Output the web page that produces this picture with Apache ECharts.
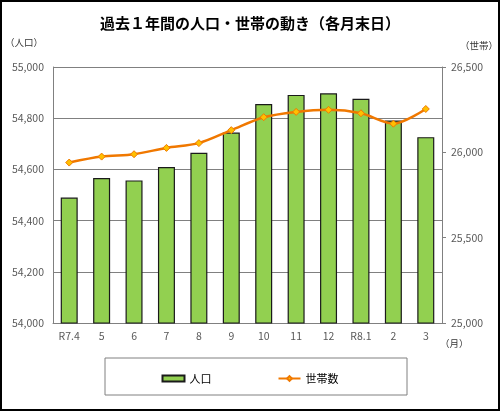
<!DOCTYPE html>
<html>
<head>
<meta charset="utf-8">
<script src="https://cdn.jsdelivr.net/npm/echarts@6/dist/echarts.min.js"></script>
<style>
  html, body { margin: 0; padding: 0; background: #fff; }
  #main { width: 500px; height: 411px; }
</style>
</head>
<body>
<div id="main"></div>
<script>
// 各月末日の人口・世帯数
var months = ['R7.4', '5', '6', '7', '8', '9', '10', '11', '12', 'R8.1', '2', '3'];
var population = [54490, 54566, 54557, 54609, 54665, 54744, 54855, 54891, 54897, 54876, 54791, 54726];
var households = [25940, 25975, 25989, 26026, 26054, 26130, 26206, 26237, 26249, 26229, 26168, 26254];
var popTicks = { min: 54000, max: 55000, interval: 200 };
var hhTicks = { min: 25000, max: 26500, interval: 500 };

var font = '"Noto Sans CJK JP", sans-serif';
var myChart = echarts.init(document.getElementById('main'));

var option = {
    backgroundColor: '#fff',
    animation: false,
    textStyle: { fontFamily: font },
    title: {
        text: '過去１年間の人口・世帯の動き（各月末日）',
        left: 'center',
        top: 11,
        textStyle: { fontSize: 15, fontWeight: 'bold', color: '#000', fontFamily: font }
    },
    grid: { left: 53, right: 58, top: 67, bottom: 88 },
    legend: {
        top: 368,
        left: 'center',
        itemGap: 66,
        itemWidth: 22,
        itemHeight: 6,
        textStyle: { fontSize: 11, color: '#000', fontFamily: font },
        data: [
            { name: '人口', icon: 'rect' },
            { name: '世帯数' }
        ]
    },
    xAxis: {
        type: 'category',
        data: months,
        axisLine: { lineStyle: { color: '#808080', width: 1 } },
        axisTick: { inside: true, length: 4, lineStyle: { color: '#808080' } },
        axisLabel: { color: '#595959', fontSize: 10.5, margin: 8 }
    },
    yAxis: [
        {
            type: 'value',
            min: popTicks.min,
            max: popTicks.max,
            interval: popTicks.interval,
            axisLine: { show: true, lineStyle: { color: '#808080' } },
            axisTick: { show: false },
            axisLabel: {
                color: '#595959', fontSize: 10.5, margin: 9,
                formatter: function (v) { return echarts.format.addCommas(v); }
            },
            splitLine: { show: true, lineStyle: { color: '#808080', width: 1 } }
        },
        {
            type: 'value',
            min: hhTicks.min,
            max: hhTicks.max,
            interval: hhTicks.interval,
            axisLine: { show: true, lineStyle: { color: '#808080' } },
            axisTick: { show: true, length: 4, lineStyle: { color: '#808080' } },
            axisLabel: {
                color: '#595959', fontSize: 10.5, margin: 9,
                formatter: function (v) { return echarts.format.addCommas(v); }
            },
            splitLine: { show: false }
        }
    ],
    graphic: [
        { type: 'rect', shape: { x: 1, y: 1, width: 498, height: 409 },
          style: { fill: 'none', stroke: '#000', lineWidth: 2 }, silent: true },
        { type: 'rect', shape: { x: 105, y: 358, width: 302, height: 37 },
          style: { fill: 'none', stroke: '#808080', lineWidth: 1 }, silent: true },
        { type: 'text', left: 5, top: 38,
          style: { text: '（人口）', fontSize: 9.5, fill: '#333', fontFamily: font } },
        { type: 'text', left: 460, top: 41,
          style: { text: '（世帯）', fontSize: 9.5, fill: '#333', fontFamily: font } },
        { type: 'text', left: 440, top: 339,
          style: { text: '（月）', fontSize: 9.5, fill: '#333', fontFamily: font } }
    ],
    series: [
        {
            name: '人口',
            type: 'bar',
            yAxisIndex: 0,
            data: population,
            barWidth: 17,
            itemStyle: { color: '#92D050', borderColor: '#1a1a1a', borderWidth: 1.2 }
        },
        {
            name: '世帯数',
            type: 'line',
            yAxisIndex: 1,
            data: households,
            smooth: 0.3,
            symbol: 'diamond',
            symbolSize: 7,
            lineStyle: { color: '#F07800', width: 2.5 },
            itemStyle: { color: '#FFC000', borderColor: '#F07800', borderWidth: 1 },
            z: 5
        }
    ]
};
myChart.setOption(option);
</script>
</body>
</html>
